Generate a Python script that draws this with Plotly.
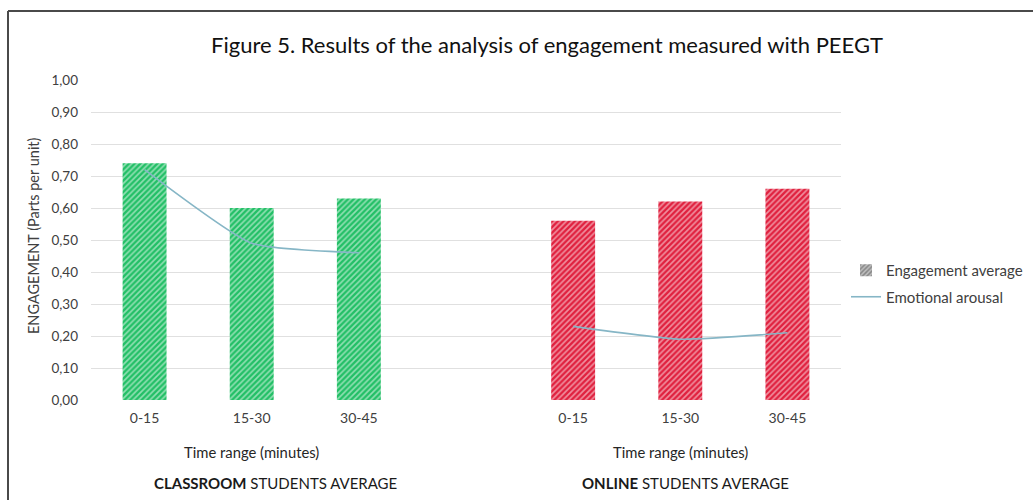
import plotly.graph_objects as go

# ---- data ----
time_ranges = ["0-15", "15-30", "30-45"]
classroom_engagement = [0.74, 0.60, 0.63]
online_engagement = [0.56, 0.62, 0.66]
classroom_arousal = [0.72, 0.49, 0.46]
online_arousal = [0.23, 0.19, 0.21]
y_ticks = [0.0, 0.1, 0.2, 0.3, 0.4, 0.5, 0.6, 0.7, 0.8, 0.9, 1.0]

classroom_x = [0, 1, 2]
online_x = [4, 5, 6]

GREEN = "#22bf66"
RED = "#e0203e"
LINE = "#86b6c6"
FONT = "Lato"

fig = go.Figure()

fig.add_trace(go.Bar(
    x=classroom_x, y=classroom_engagement, width=0.41,
    marker=dict(color=GREEN, line=dict(width=0),
                pattern=dict(shape="/", fgcolor="white", fillmode="overlay", size=4, solidity=0.42)),
    showlegend=False, name="Engagement average",
))
fig.add_trace(go.Bar(
    x=online_x, y=online_engagement, width=0.41,
    marker=dict(color=RED, line=dict(width=0),
                pattern=dict(shape="/", fgcolor="white", fillmode="overlay", size=4, solidity=0.42)),
    showlegend=False, name="Engagement average",
))
# legend proxy for bars
fig.add_trace(go.Bar(
    x=[None], y=[None], name="Engagement average", legendgroup="a",
    marker=dict(color="#8a8a8a", line=dict(width=0),
                pattern=dict(shape="/", fgcolor="white", fillmode="overlay", size=4, solidity=0.45)),
))
fig.add_trace(go.Scatter(
    x=classroom_x, y=classroom_arousal, mode="lines",
    line=dict(color=LINE, width=1.6, shape="spline", smoothing=0.5),
    name="Emotional arousal", legendgroup="b", showlegend=True,
))
fig.add_trace(go.Scatter(
    x=online_x, y=online_arousal, mode="lines",
    line=dict(color=LINE, width=1.6, shape="spline", smoothing=0.5),
    name="Emotional arousal", legendgroup="b", showlegend=False,
))

W, H = 1033, 500
L, R, T, B = 91, 192, 80, 100

def px_x(p):
    return (p - L) / (W - L - R)

def px_y(p):
    return (H - B - p) / (H - T - B)

annotations = [
    dict(text="ENGAGEMENT (Parts per unit)", x=px_x(33), y=px_y(236), xref="paper", yref="paper",
         xanchor="center", yanchor="middle",
         textangle=-90, showarrow=False, font=dict(family=FONT, size=14.5, color="#404040")),
    dict(text="Time range (minutes)", x=1, y=px_y(452), xref="x", yref="paper",
         xanchor="center", yanchor="middle",
         showarrow=False, font=dict(family=FONT, size=14.8, color="#262626")),
    dict(text="Time range (minutes)", x=5, y=px_y(452), xref="x", yref="paper",
         xanchor="center", yanchor="middle",
         showarrow=False, font=dict(family=FONT, size=14.8, color="#262626")),
    dict(text="<b>CLASSROOM</b> STUDENTS AVERAGE", x=px_x(275), y=px_y(483), xref="paper", yref="paper",
         xanchor="center", yanchor="middle",
         showarrow=False, font=dict(family=FONT, size=15, color="#1a1a1a")),
    dict(text="<b>ONLINE</b> STUDENTS AVERAGE", x=px_x(685), y=px_y(483), xref="paper", yref="paper",
         xanchor="center", yanchor="middle",
         showarrow=False, font=dict(family=FONT, size=15, color="#1a1a1a")),
]

shapes = [
    dict(type="line", xref="paper", yref="paper", x0=px_x(8), x1=px_x(1040), y0=px_y(11), y1=px_y(11),
         line=dict(color="#4a4a4a", width=2)),
    dict(type="line", xref="paper", yref="paper", x0=px_x(8), x1=px_x(8), y0=px_y(11), y1=px_y(510),
         line=dict(color="#4a4a4a", width=2)),
]

fig.update_layout(
    width=W, height=H,
    margin=dict(l=L, r=R, t=T, b=B, autoexpand=False),
    paper_bgcolor="white", plot_bgcolor="white",
    separators=",.",
    title=dict(text="Figure 5. Results of the analysis of engagement measured with PEEGT",
               x=547 / W, xanchor="center", y=1 - 45 / H, yanchor="middle",
               font=dict(family=FONT, size=22, color="#111111")),
    xaxis=dict(range=[-0.5, 6.5], tickmode="array", tickvals=classroom_x + online_x,
               ticktext=time_ranges + time_ranges, showgrid=False, zeroline=False,
               showline=False, ticks="", ticklabelstandoff=8,
               tickfont=dict(family=FONT, size=14, color="#404040")),
    yaxis=dict(range=[0, 1.0], tickmode="array", tickvals=y_ticks, tickformat=".2f",
               showgrid=True, gridcolor="#e0e0e0", gridwidth=1, zeroline=False,
               showline=False, ticks="", ticklabelstandoff=12,
               tickfont=dict(family=FONT, size=13.5, color="#404040")),
    legend=dict(x=px_x(846), y=px_y(254), xanchor="left", yanchor="top",
                font=dict(family=FONT, size=15, color="#404040"),
                tracegroupgap=4, itemwidth=30, bgcolor="rgba(0,0,0,0)"),
    barmode="overlay",
    annotations=annotations,
    shapes=shapes,
)

fig.write_html("out.html", config={"displayModeBar": False},
               post_script="document.body.style.margin='0';")
